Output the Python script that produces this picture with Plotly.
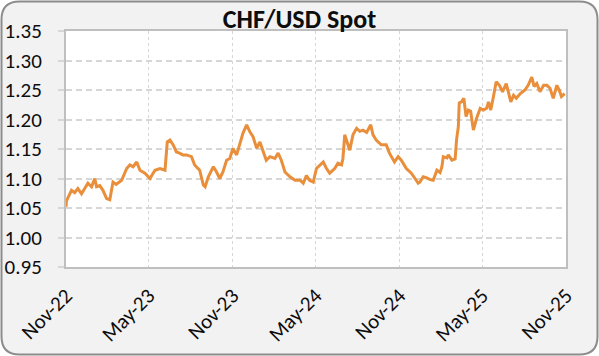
import plotly.graph_objects as go

dates = [
    "2022-11-01", "2022-11-02", "2022-11-13", "2022-11-20", "2022-11-27", "2022-12-05",
    "2022-12-12", "2022-12-19", "2022-12-27", "2023-01-03", "2023-01-07", "2023-01-14",
    "2023-01-21", "2023-01-29", "2023-02-05", "2023-02-12", "2023-02-19", "2023-03-03",
    "2023-03-14", "2023-03-21", "2023-03-28", "2023-04-05", "2023-04-12", "2023-04-23",
    "2023-05-04", "2023-05-15", "2023-05-26", "2023-06-06", "2023-06-11", "2023-06-17",
    "2023-06-24", "2023-07-01", "2023-07-08", "2023-07-15", "2023-07-23", "2023-08-03",
    "2023-08-10", "2023-08-21", "2023-08-29", "2023-09-02", "2023-09-09", "2023-09-20",
    "2023-09-27", "2023-10-04", "2023-10-11", "2023-10-19", "2023-10-26", "2023-11-02",
    "2023-11-10", "2023-11-17", "2023-11-24", "2023-12-02", "2023-12-09", "2023-12-16",
    "2023-12-24", "2023-12-31", "2024-01-07", "2024-01-14", "2024-01-22", "2024-02-02",
    "2024-02-09", "2024-02-16", "2024-02-24", "2024-03-06", "2024-03-17", "2024-03-28",
    "2024-04-04", "2024-04-11", "2024-04-18", "2024-04-26", "2024-05-03", "2024-05-10",
    "2024-05-18", "2024-05-25", "2024-06-01", "2024-06-12", "2024-06-19", "2024-06-27",
    "2024-06-30", "2024-07-04", "2024-07-08", "2024-07-15", "2024-07-22", "2024-07-30",
    "2024-08-06", "2024-08-13", "2024-08-21", "2024-08-30", "2024-09-04", "2024-09-11",
    "2024-09-22", "2024-10-03", "2024-10-10", "2024-10-21", "2024-10-29", "2024-11-05",
    "2024-11-16", "2024-11-27", "2024-12-05", "2024-12-12", "2024-12-16", "2024-12-23",
    "2024-12-31", "2025-01-07", "2025-01-14", "2025-01-22", "2025-01-29", "2025-02-02",
    "2025-02-05", "2025-02-13", "2025-02-16", "2025-02-24", "2025-03-03", "2025-03-06",
    "2025-03-10", "2025-03-12", "2025-03-17", "2025-03-22", "2025-03-27", "2025-04-01",
    "2025-04-06", "2025-04-12", "2025-04-19", "2025-04-27", "2025-05-04", "2025-05-11",
    "2025-05-15", "2025-05-20", "2025-05-26", "2025-06-01", "2025-06-08", "2025-06-15",
    "2025-06-23", "2025-06-28", "2025-07-03", "2025-07-09", "2025-07-15", "2025-07-24",
    "2025-08-03", "2025-08-10", "2025-08-18", "2025-08-23", "2025-08-29", "2025-09-05",
    "2025-09-13", "2025-09-20", "2025-09-27", "2025-10-04", "2025-10-12", "2025-10-17",
    "2025-10-22", "2025-10-29",
]

spot = [
    1.052, 1.062, 1.080, 1.076, 1.083, 1.074,
    1.083, 1.092, 1.086, 1.100, 1.086, 1.088,
    1.080, 1.066, 1.064, 1.094, 1.090, 1.097,
    1.117, 1.123, 1.120, 1.128, 1.114, 1.109,
    1.100, 1.114, 1.117, 1.114, 1.162, 1.165,
    1.157, 1.145, 1.143, 1.140, 1.140, 1.137,
    1.123, 1.114, 1.089, 1.086, 1.103, 1.120,
    1.111, 1.100, 1.111, 1.131, 1.134, 1.151,
    1.140, 1.160, 1.177, 1.191, 1.179, 1.171,
    1.151, 1.162, 1.148, 1.131, 1.137, 1.134,
    1.143, 1.131, 1.111, 1.103, 1.097, 1.097,
    1.092, 1.105, 1.097, 1.094, 1.117, 1.123,
    1.128, 1.117, 1.109, 1.117, 1.126, 1.123,
    1.134, 1.174, 1.165, 1.148, 1.174, 1.185,
    1.180, 1.182, 1.178, 1.191, 1.174, 1.165,
    1.157, 1.157, 1.143, 1.128, 1.137, 1.131,
    1.117, 1.109, 1.100, 1.092, 1.094, 1.103,
    1.101, 1.098, 1.097, 1.114, 1.110, 1.120,
    1.137, 1.135, 1.140, 1.131, 1.133, 1.165,
    1.188, 1.228, 1.230, 1.236, 1.205, 1.216,
    1.214, 1.182, 1.202, 1.219, 1.216, 1.219,
    1.230, 1.216, 1.239, 1.264, 1.258, 1.247,
    1.261, 1.247, 1.230, 1.241, 1.236, 1.244,
    1.250, 1.258, 1.272, 1.256, 1.261, 1.247,
    1.258, 1.258, 1.253, 1.236, 1.258, 1.250,
    1.239, 1.244,
]

x_tick_vals = ["2022-11-01", "2023-05-01", "2023-11-01", "2024-05-01",
               "2024-11-01", "2025-05-01", "2025-11-01"]
x_tick_text = ["Nov-22", "May-23", "Nov-23", "May-24", "Nov-24", "May-25", "Nov-25"]
y_tick_vals = [0.95, 1.00, 1.05, 1.10, 1.15, 1.20, 1.25, 1.30, 1.35]
y_tick_text = ["0.95", "1.00", "1.05", "1.10", "1.15", "1.20", "1.25", "1.30", "1.35"]

FONT = "Carlito, Lato, sans-serif"
W, H = 599, 356
ML, MR, MT, MB = 66, 33, 31, 89
PW, PH = W - ML - MR, H - MT - MB


def px(x):
    return (x - ML) / PW


def py(y):
    return (H - MB - y) / PH


# rounded outer frame path (paper coords)
r = 18
x0, x1, y0, y1 = 1.5, 597.5, 1.5, 354.5
path = (
    f"M {px(x0 + r)},{py(y0)} L {px(x1 - r)},{py(y0)} "
    f"Q {px(x1)},{py(y0)} {px(x1)},{py(y0 + r)} "
    f"L {px(x1)},{py(y1 - r)} Q {px(x1)},{py(y1)} {px(x1 - r)},{py(y1)} "
    f"L {px(x0 + r)},{py(y1)} Q {px(x0)},{py(y1)} {px(x0)},{py(y1 - r)} "
    f"L {px(x0)},{py(y0 + r)} Q {px(x0)},{py(y0)} {px(x0 + r)},{py(y0)} Z"
)

fig = go.Figure()
fig.add_trace(go.Scatter(
    x=dates, y=spot, mode="lines",
    line=dict(color="#E98E3A", width=3),
    hoverinfo="skip", showlegend=False,
))

fig.update_layout(
    width=W, height=H,
    margin=dict(l=ML, r=MR, t=MT, b=MB, autoexpand=False),
    paper_bgcolor="white",
    plot_bgcolor="white",
    title=dict(text="<b>CHF/USD Spot</b>", x=0.5, xanchor="center",
               y=1 - 19 / H, yanchor="middle", automargin=False,
               font=dict(family=FONT, size=26, color="#0d0d0d")),
    shapes=[
        dict(type="path", path=path, xref="paper", yref="paper",
             fillcolor="#f2f2f2", line=dict(color="#8c8c8c", width=2), layer="below"),
        dict(type="rect", xref="paper", yref="paper", x0=0, x1=1, y0=0, y1=1,
             fillcolor="white", line=dict(width=0), layer="below"),
    ],
)

fig.update_xaxes(
    type="date",
    range=["2022-11-01", "2025-11-01"],
    tickvals=x_tick_vals, ticktext=x_tick_text,
    tickangle=-45, automargin=False,
    tickfont=dict(family=FONT, size=21, color="#0d0d0d"),
    showgrid=True, gridcolor="#d6d6d6", gridwidth=1, griddash="3px,3px",
    showline=True, linecolor="#bfbfbf", linewidth=2, mirror=True,
    ticks="", zeroline=False, ticklabelstandoff=6,
)
fig.update_yaxes(
    range=[0.95, 1.35], automargin=False,
    tickvals=y_tick_vals, ticktext=y_tick_text,
    tickfont=dict(family=FONT, size=21, color="#0d0d0d"),
    showgrid=True, gridcolor="#d6d6d6", gridwidth=1.6, griddash="6px,4px",
    showline=True, linecolor="#bfbfbf", linewidth=2, mirror=True,
    ticks="outside", ticklen=6, tickcolor="#d6d6d6", tickwidth=1.6,
    ticklabelstandoff=12, zeroline=False,
)

fig.write_html("out.html")
